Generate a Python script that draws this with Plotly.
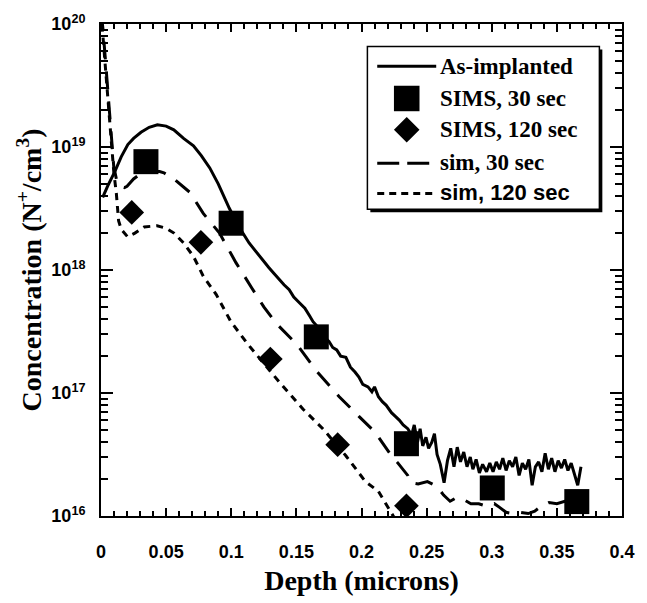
import numpy as np
import plotly.graph_objects as go

# ---- measured profiles (depth in microns, concentration as log10 of N+/cm^3) ----
asimp_depth = [
    0.0013, 0.0050, 0.0106, 0.0155, 0.0206, 0.0250, 0.0307, 0.0370, 0.0433, 0.0500,
    0.0559, 0.0634, 0.0710, 0.0770, 0.0835, 0.0900, 0.0986, 0.1060, 0.1137, 0.1210,
    0.1288, 0.1330, 0.1370, 0.1405, 0.1445, 0.1480, 0.1527, 0.1565, 0.1600, 0.1628,
    0.1670, 0.1710, 0.1750, 0.1779, 0.1810, 0.1840, 0.1880, 0.1915, 0.1950, 0.1980,
    0.2010, 0.2050, 0.2080, 0.2100, 0.2130, 0.2160, 0.2190, 0.2230, 0.2260, 0.2290,
    0.2320, 0.2355, 0.2385, 0.2405, 0.2430, 0.2450, 0.2470, 0.2495, 0.2515, 0.2540,
    0.2560, 0.2580, 0.2605, 0.2634, 0.2660, 0.2685, 0.2710, 0.2735, 0.2760, 0.2785,
    0.2810, 0.2835, 0.2855, 0.2880, 0.2905, 0.2930, 0.2960, 0.2985, 0.3010, 0.3035,
    0.3060, 0.3085, 0.3110, 0.3135, 0.3160, 0.3185, 0.3210, 0.3235, 0.3260, 0.3285,
    0.3310, 0.3335, 0.3360, 0.3385, 0.3410, 0.3435, 0.3460, 0.3485, 0.3510, 0.3535,
    0.3560, 0.3585, 0.3610, 0.3635, 0.3660, 0.3685,
]
asimp_log10 = [
    18.59, 18.68, 18.80, 18.92, 19.02, 19.07, 19.12, 19.16, 19.18, 19.17,
    19.14, 19.07, 19.01, 18.93, 18.83, 18.70, 18.50, 18.35, 18.22, 18.12,
    18.02, 17.97, 17.92, 17.88, 17.84, 17.78, 17.73, 17.69, 17.63, 17.58,
    17.53, 17.46, 17.42, 17.37, 17.35, 17.30, 17.29, 17.21, 17.17, 17.13,
    17.07, 17.05, 17.01, 17.05, 16.97, 16.93, 16.90, 16.84, 16.81, 16.78,
    16.74, 16.71, 16.66, 16.74, 16.60, 16.71, 16.57, 16.64, 16.55, 16.60,
    16.67, 16.50, 16.42, 16.27, 16.45, 16.55, 16.40, 16.56, 16.44, 16.52,
    16.40, 16.48, 16.38, 16.46, 16.35, 16.42, 16.36, 16.43, 16.36, 16.44,
    16.38, 16.47, 16.37, 16.45, 16.40, 16.48, 16.33, 16.43, 16.38, 16.46,
    16.25, 16.40, 16.44, 16.36, 16.51, 16.38, 16.47, 16.36, 16.45, 16.39,
    16.46, 16.37, 16.43, 16.34, 16.25, 16.40,
]

sims30_depth = [0.0345, 0.0999, 0.1653, 0.2345, 0.3004, 0.3653]
sims30_conc = [7.6e18, 2.4e18, 2.86e17, 3.87e16, 1.69e16, 1.31e16]

sims120_depth = [0.0236, 0.0767, 0.1300, 0.1817, 0.2345]
sims120_conc = [2.94e18, 1.68e18, 1.89e17, 3.8e16, 1.21e16]

sim30_depth = [
    0.0000, 0.0015, 0.0045, 0.0066, 0.0083, 0.0098, 0.0120, 0.0150, 0.0180, 0.0200,
    0.0250, 0.0300, 0.0360, 0.0450, 0.0483, 0.0560, 0.0684, 0.0785, 0.0910, 0.1036,
    0.1160, 0.1250, 0.1350, 0.1500, 0.1653, 0.1829, 0.1980, 0.2106, 0.2157, 0.2230,
    0.2280, 0.2355, 0.2380, 0.2435, 0.2506, 0.2580, 0.2630, 0.2680, 0.2730, 0.2790,
    0.2840, 0.2900, 0.2960, 0.3020, 0.3060, 0.3110, 0.3160, 0.3220, 0.3280, 0.3330,
    0.3380, 0.3440, 0.3500, 0.3560, 0.3620, 0.3680,
]
sim30_log10 = [
    20.10, 19.96, 19.56, 19.28, 19.04, 18.84, 18.73, 18.68, 18.67, 18.68,
    18.74, 18.78, 18.80, 18.80, 18.79, 18.74, 18.63, 18.46, 18.30, 18.06,
    17.85, 17.70, 17.56, 17.40, 17.18, 16.97, 16.81, 16.68, 16.60, 16.49,
    16.43, 16.33, 16.27, 16.26, 16.28, 16.24, 16.17, 16.12, 16.15, 16.13,
    16.10, 16.10, 16.08, 16.10, 16.07, 16.03, 16.02, 16.03, 16.02, 16.04,
    16.08, 16.11, 16.10, 16.12, 16.10, 16.09,
]

sim120_depth = [
    0.0000, 0.0015, 0.0045, 0.0066, 0.0083, 0.0098, 0.0118, 0.0125, 0.0135, 0.0156,
    0.0204, 0.0260, 0.0332, 0.0430, 0.0500, 0.0560, 0.0634, 0.0710, 0.0785, 0.0845,
    0.0885, 0.0997, 0.1125, 0.1250, 0.1376, 0.1550, 0.1703, 0.1880, 0.2030, 0.2130,
    0.2207, 0.2255,
]
sim120_log10 = [
    20.10, 19.92, 19.50, 19.22, 18.98, 18.80, 18.62, 18.50, 18.40, 18.33,
    18.27, 18.30, 18.35, 18.36, 18.34, 18.30, 18.22, 18.11, 17.95, 17.86,
    17.80, 17.58, 17.40, 17.24, 17.08, 16.87, 16.71, 16.49, 16.28, 16.20,
    16.07, 15.98,
]

x_range = [0, 0.4]
y_decades = [16, 20]

BLACK = "black"
SERIF = "Liberation Serif"
SANS = "Liberation Sans"

fig = go.Figure()

fig.add_trace(go.Scatter(
    x=asimp_depth, y=10.0 ** np.array(asimp_log10), name="As-implanted",
    mode="lines", line=dict(color=BLACK, width=3)))
fig.add_trace(go.Scatter(
    x=sim30_depth, y=10.0 ** np.array(sim30_log10), name="sim, 30 sec",
    mode="lines", line=dict(color=BLACK, width=3, dash="18px,12px")))
fig.add_trace(go.Scatter(
    x=sim120_depth, y=10.0 ** np.array(sim120_log10), name="sim, 120 sec",
    mode="lines", line=dict(color=BLACK, width=3, dash="7px,6px")))
fig.add_trace(go.Scatter(
    x=sims30_depth, y=sims30_conc, name="SIMS, 30 sec", mode="markers",
    marker=dict(symbol="square", size=25, color=BLACK, line=dict(width=0))))
fig.add_trace(go.Scatter(
    x=sims120_depth, y=sims120_conc, name="SIMS, 120 sec", mode="markers",
    marker=dict(symbol="diamond", size=19, color=BLACK, line=dict(width=0))))

# ---- figure geometry ----
W, H = 647, 603
ML, MR, MT, MB = 101, 16, 20, 81
PW, PH = W - ML - MR, H - MT - MB


def px(xpix):
    return (xpix - ML) / PW


def py(ypix):
    return (H - MB - ypix) / PH


# ---- hand-built legend box with drop shadow ----
shapes = [
    dict(type="rect", xref="paper", yref="paper", x0=px(375), x1=px(611),
         y0=py(212), y1=py(46), fillcolor=BLACK, line=dict(width=0), layer="above"),
    dict(type="rect", xref="paper", yref="paper", x0=px(372), x1=px(608),
         y0=py(209), y1=py(43), fillcolor="white", line=dict(color=BLACK, width=1.5),
         layer="above"),
]
rows = [63, 96, 128, 161, 192]
legend_labels = [
    "As-implanted", "SIMS, 30 sec", "SIMS, 120 sec", "sim, 30 sec", "sim, 120 sec",
]
legend_fonts = [SERIF, SERIF, SERIF, SERIF, SANS]
legend_sizes = [23, 23, 23, 23, 22]

shapes.append(dict(type="line", xref="paper", yref="paper", x0=px(382), x1=px(442),
                   y0=py(rows[0]), y1=py(rows[0]), line=dict(color=BLACK, width=3),
                   layer="above"))
shapes.append(dict(type="rect", xref="paper", yref="paper", x0=px(399), x1=px(425),
                   y0=py(rows[1] + 13), y1=py(rows[1] - 13), fillcolor=BLACK,
                   line=dict(width=0), layer="above"))
cx, cy, r = 412, rows[2], 13
shapes.append(dict(type="path", xref="paper", yref="paper",
                   path=(f"M{px(cx)},{py(cy - r)} L{px(cx + r)},{py(cy)} "
                         f"L{px(cx)},{py(cy + r)} L{px(cx - r)},{py(cy)} Z"),
                   fillcolor=BLACK, line=dict(width=0), layer="above"))
shapes.append(dict(type="line", xref="paper", yref="paper", x0=px(382), x1=px(442),
                   y0=py(rows[3] + 1), y1=py(rows[3] + 1),
                   line=dict(color=BLACK, width=3, dash="22px,8px"), layer="above"))
shapes.append(dict(type="line", xref="paper", yref="paper", x0=px(382), x1=px(442),
                   y0=py(rows[4] + 1), y1=py(rows[4] + 1),
                   line=dict(color=BLACK, width=3, dash="7px,5px"), layer="above"))

annotations = []
for label, fam, size, ry in zip(legend_labels, legend_fonts, legend_sizes, rows):
    annotations.append(dict(
        xref="paper", yref="paper", x=px(444), y=py(ry), xanchor="left",
        yanchor="middle", text=label, showarrow=False,
        font=dict(family=fam, size=size, color=BLACK, weight="bold")))

tick_font = dict(family=SANS, size=18, color=BLACK, weight="bold")
title_font = dict(family=SERIF, size=28, color=BLACK, weight="bold")

fig.update_layout(
    width=W, height=H,
    margin=dict(l=ML, r=MR, t=MT, b=MB),
    paper_bgcolor="white", plot_bgcolor="white",
    showlegend=False,
    shapes=shapes,
    annotations=annotations,
    xaxis=dict(
        range=x_range, dtick=0.05, tick0=0, ticks="inside", ticklen=8, tickwidth=1.5,
        tickcolor=BLACK, showline=True, linewidth=2, linecolor=BLACK, mirror="allticks",
        showgrid=False, zeroline=False, tickfont=tick_font, ticklabelstandoff=18,
        minor=dict(dtick=0.01, ticks="inside", ticklen=5, tickwidth=1.5, tickcolor=BLACK,
                   showgrid=False),
        title=dict(text="Depth (microns)", font=title_font, standoff=10),
    ),
    yaxis=dict(
        type="log", range=y_decades,
        tickvals=[10.0 ** d for d in range(16, 21)],
        ticktext=[f"10<sup>{d}</sup>" for d in range(16, 21)],
        ticks="inside", ticklen=12, tickwidth=1.5, tickcolor=BLACK,
        showline=True, linewidth=2, linecolor=BLACK, mirror="allticks",
        showgrid=False, zeroline=False, tickfont=tick_font, ticklabelstandoff=10,
        minor=dict(dtick="D1", ticks="inside", ticklen=7, tickwidth=1.5, tickcolor=BLACK,
                   showgrid=False),
        title=dict(text="Concentration (N<sup>+</sup>/cm<sup>3</sup>)", font=title_font,
                   standoff=2),
    ),
)

fig.write_html("out.html")
